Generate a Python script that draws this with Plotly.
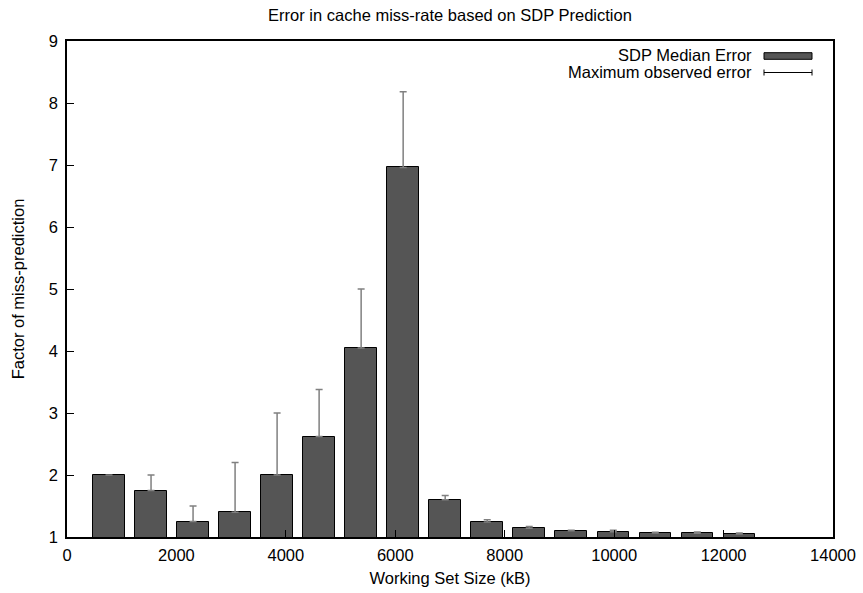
import plotly.graph_objects as go

# Working set sizes (kB) and SDP prediction error factors
working_set_kb = [768, 1536, 2304, 3072, 3840, 4608, 5376, 6144,
                  6912, 7680, 8448, 9216, 9984, 10752, 11520, 12288]
median_error = [2.00, 1.75, 1.25, 1.40, 2.00, 2.62, 4.05, 6.96,
                1.60, 1.24, 1.14, 1.10, 1.085, 1.065, 1.06, 1.05]
max_error = [2.00, 2.00, 1.50, 2.20, 3.00, 3.38, 5.00, 8.18,
             1.67, 1.28, 1.17, 1.11, 1.11, 1.075, 1.08, 1.065]

x_ticks = [0, 2000, 4000, 6000, 8000, 10000, 12000, 14000]
y_ticks = [1, 2, 3, 4, 5, 6, 7, 8, 9]

FONT = "Liberation Sans, Arial, Helvetica, sans-serif"
FS = 16.5
BAR_FILL = "#555555"
ERR_COLOR = "#808080"

upper = [m - v for m, v in zip(max_error, median_error)]

fig = go.Figure()
fig.add_trace(go.Bar(
    x=working_set_kb,
    y=median_error,
    width=576,
    name="SDP Median Error",
    marker=dict(color=BAR_FILL, line=dict(color="black", width=1)),
    error_y=dict(type="data", symmetric=False, array=upper,
                 arrayminus=[0] * len(upper),
                 color=ERR_COLOR, thickness=1.5, width=3.5),
    showlegend=False,
))

axis_common = dict(
    showline=True, linecolor="black", linewidth=1.5, mirror=True,
    ticks="inside", ticklen=7, tickwidth=1, tickcolor="black",
    showgrid=False, zeroline=False, automargin=False,
    tickfont=dict(family=FONT, size=FS, color="black"),
)

fig.update_layout(
    width=863, height=593,
    margin=dict(l=67, r=30, t=41, b=56),
    paper_bgcolor="white", plot_bgcolor="white",
    font=dict(family=FONT, size=FS, color="black"),
    title=dict(text="Error in cache miss-rate based on SDP Prediction",
               x=(67 + 833) / 2 / 863, xanchor="center",
               y=1 - 15 / 593, yanchor="middle",
               font=dict(family=FONT, size=FS, color="black")),
    xaxis=dict(range=[0, 14000], tickvals=x_ticks,
               ticktext=[str(v) for v in x_ticks],
               title=dict(text="Working Set Size (kB)", standoff=10,
                          font=dict(family=FONT, size=FS)),
               ticklabelstandoff=2,
               **axis_common),
    yaxis=dict(range=[1, 9], tickvals=y_ticks,
               ticktext=[str(v) for v in y_ticks],
               title=dict(text="Factor of miss-prediction", standoff=20,
                          font=dict(family=FONT, size=FS)),
               ticklabelstandoff=4,
               **axis_common),
    bargap=0,
)

# Key in the top-right corner: labels right-aligned, samples to their right
key_text_x = (754 - 67) / 766
sample_x0 = (764 - 67) / 766
sample_x1 = (812 - 67) / 766
row1_y = (537 - 55.5) / 496
row2_y = (537 - 72.5) / 496
fig.add_annotation(text="SDP Median Error", xref="paper", yref="paper",
                   x=key_text_x, y=row1_y, xanchor="right", yanchor="middle",
                   showarrow=False, font=dict(family=FONT, size=FS))
fig.add_annotation(text="Maximum observed error", xref="paper", yref="paper",
                   x=key_text_x, y=row2_y, xanchor="right", yanchor="middle",
                   showarrow=False, font=dict(family=FONT, size=FS))
fig.add_shape(type="rect", xref="paper", yref="paper",
              x0=sample_x0, x1=sample_x1,
              y0=(537 - 59.3) / 496, y1=(537 - 52.7) / 496,
              fillcolor=BAR_FILL, line=dict(color="black", width=1))
fig.add_shape(type="line", xref="paper", yref="paper",
              x0=sample_x0, x1=sample_x1, y0=row2_y, y1=row2_y,
              line=dict(color="black", width=1))
for sx in (sample_x0, sample_x1):
    fig.add_shape(type="line", xref="paper", yref="paper",
                  x0=sx, x1=sx, y0=row2_y - 3 / 496, y1=row2_y + 3 / 496,
                  line=dict(color="black", width=1))

fig.write_html("out.html")
